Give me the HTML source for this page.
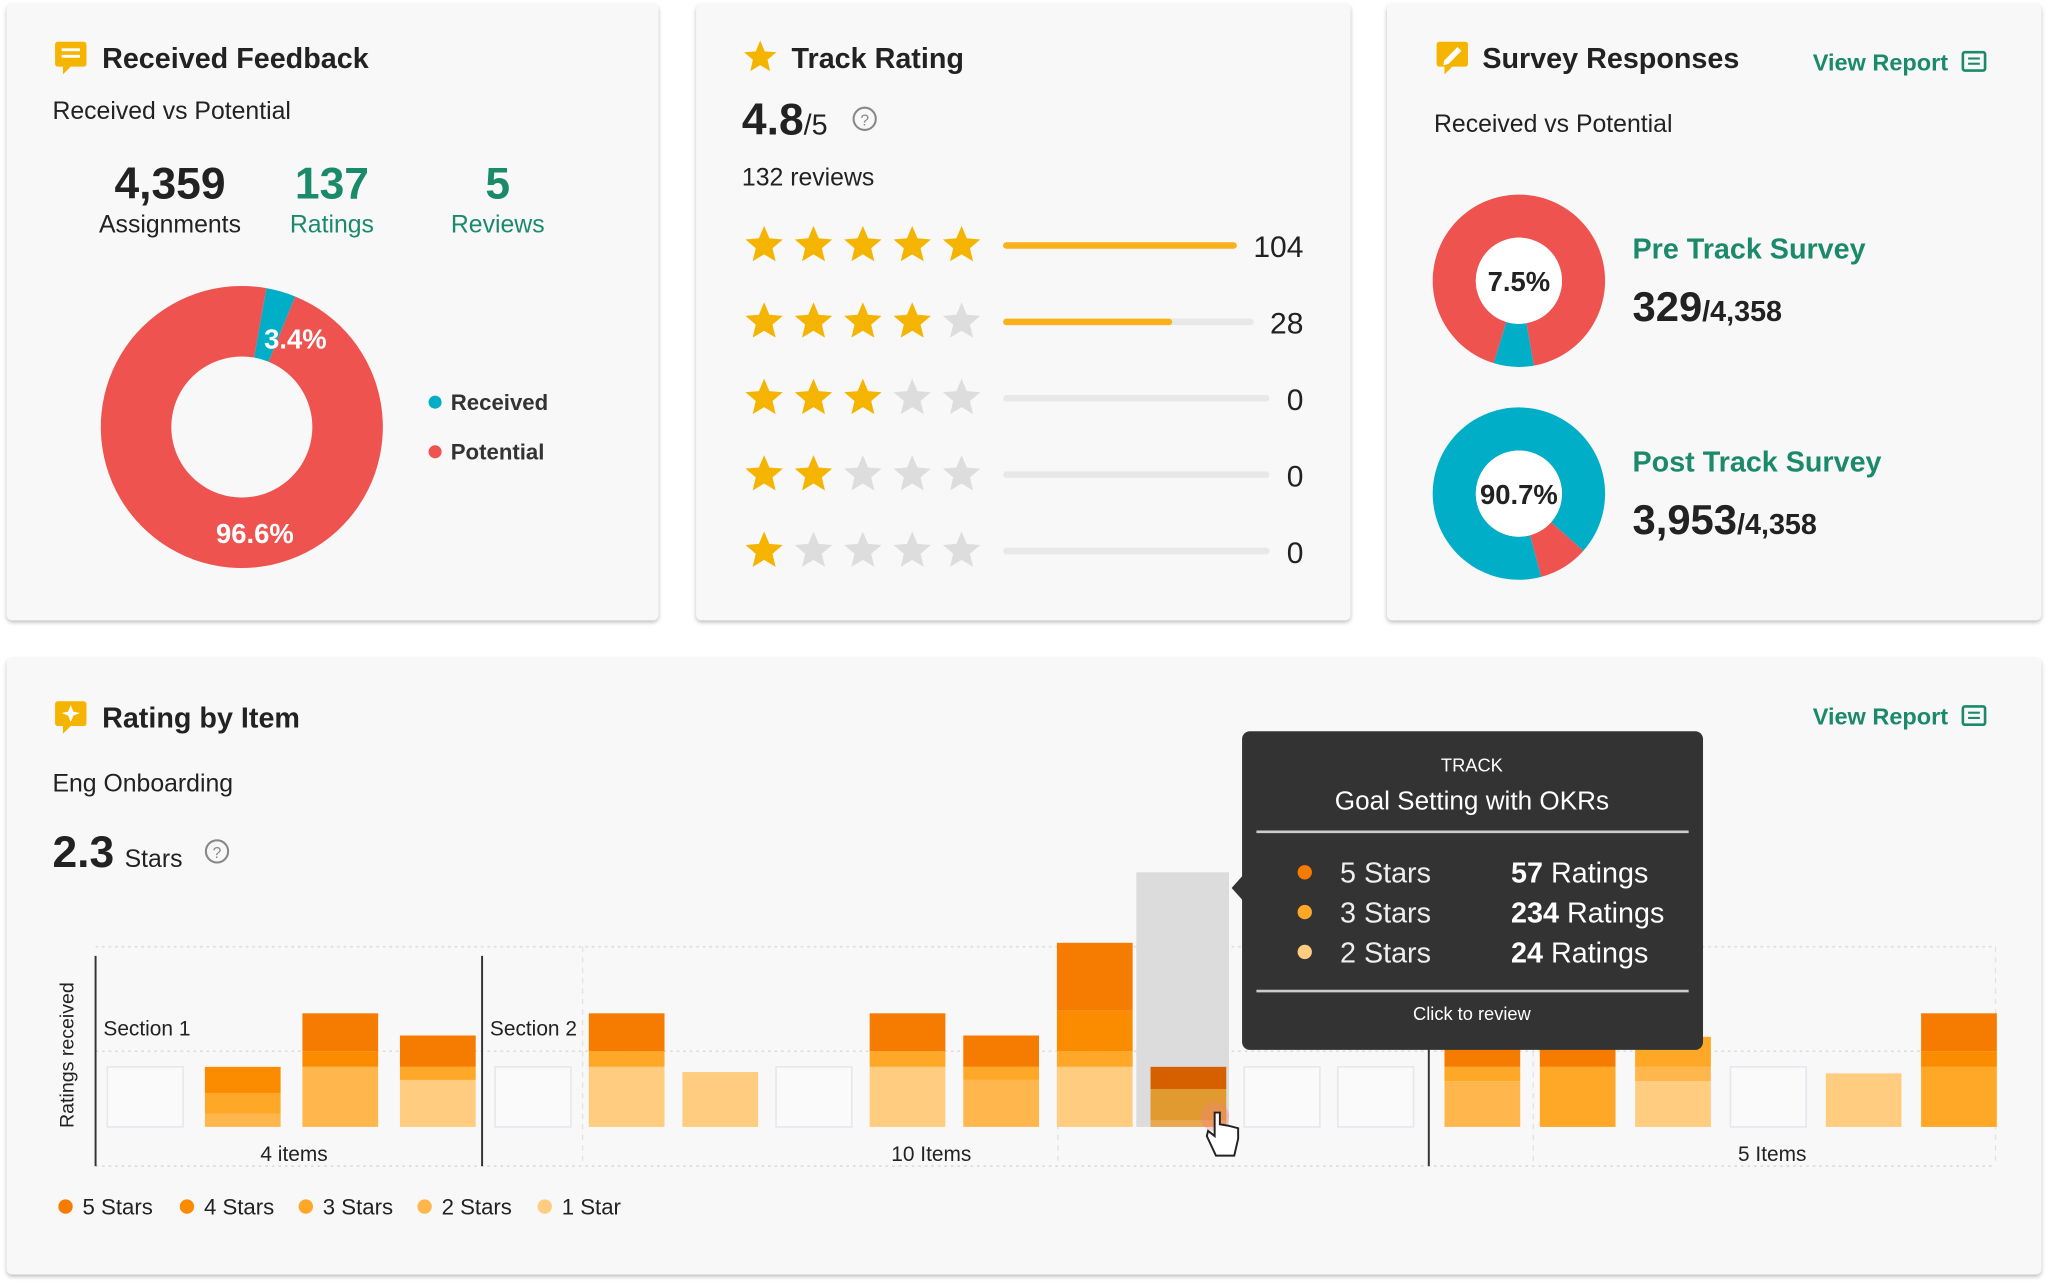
<!DOCTYPE html>
<html><head><meta charset="utf-8">
<style>
html,body{margin:0;padding:0;background:#fff;}
svg{display:block;font-family:"Liberation Sans",Arial,sans-serif;}
</style></head>
<body>
<svg id="root" width="2048" height="1281" viewBox="0 0 1568 981" xmlns="http://www.w3.org/2000/svg">
<defs>
<filter id="sh" x="-5%" y="-5%" width="110%" height="115%"><feDropShadow dx="0" dy="1.5" stdDeviation="1.6" flood-color="#000" flood-opacity="0.28"/></filter>
</defs>
<rect width="1568" height="981" fill="#fff"/>
<rect x="5" y="3" width="499" height="472" rx="4" fill="#f8f8f8" filter="url(#sh)"/>
<rect x="533" y="3" width="501" height="472" rx="4" fill="#f8f8f8" filter="url(#sh)"/>
<rect x="1062" y="3" width="501" height="472" rx="4" fill="#f8f8f8" filter="url(#sh)"/>
<rect x="5" y="504" width="1558" height="472" rx="4" fill="#f8f8f8" filter="url(#sh)"/>

<g><rect x="42" y="32" width="24" height="19" rx="2" fill="#f5b400"/><path d="M48 51 L48 57 L54 51 Z" fill="#f5b400"/><rect x="47" y="37" width="14" height="2.2" fill="#fff"/><rect x="47" y="42" width="14" height="2.2" fill="#fff"/></g>
<text x="78" y="52" font-size="22" font-weight="bold" fill="#222">Received Feedback</text>
<text x="40" y="91" font-size="19" fill="#222">Received vs Potential</text>
<text x="130" y="152" font-size="34" font-weight="bold" fill="#222" text-anchor="middle">4,359</text>
<text x="130" y="178" font-size="19" fill="#222" text-anchor="middle">Assignments</text>
<text x="254" y="152" font-size="34" font-weight="bold" fill="#1a8a6a" text-anchor="middle">137</text>
<text x="254" y="178" font-size="19" fill="#1a8a6a" text-anchor="middle">Ratings</text>
<text x="381" y="152" font-size="34" font-weight="bold" fill="#1a8a6a" text-anchor="middle">5</text>
<text x="381" y="178" font-size="19" fill="#1a8a6a" text-anchor="middle">Reviews</text>
<g id="donut1"></g>
<circle cx="333" cy="308" r="5" fill="#00aec7"/>
<text x="345" y="314" font-size="17" font-weight="bold" fill="#333">Received</text>
<circle cx="333" cy="346" r="5" fill="#ef5350"/>
<text x="345" y="352" font-size="17" font-weight="bold" fill="#333">Potential</text>

<path d="" id="trIcon" fill="#f5b400"/>
<text x="606" y="52" font-size="22" font-weight="bold" fill="#222">Track Rating</text>
<text x="568" y="103" fill="#222"><tspan font-size="34" font-weight="bold">4.8</tspan><tspan font-size="22">/5</tspan></text>
<g><circle cx="662" cy="91" r="8.5" fill="none" stroke="#888" stroke-width="1.6"/><text x="662" y="96" font-size="12" fill="#888" text-anchor="middle">?</text></g>
<text x="568" y="142" font-size="19" fill="#222">132 reviews</text>
<g id="starRows"></g>

<g><rect x="1100" y="32" width="24" height="19" rx="2" fill="#f5b400"/><path d="M1106 51 L1106 57 L1112 51 Z" fill="#f5b400"/><path d="M1106 46 L1116 36 L1119 39 L1109 49 L1105 50 Z" fill="#fff"/></g>
<text x="1135" y="52" font-size="22" font-weight="bold" fill="#222">Survey Responses</text>
<text x="1388" y="54" font-size="18" font-weight="bold" fill="#1a8a6a">View Report</text>
<g><rect x="1503" y="40" width="17" height="14" rx="1.5" fill="none" stroke="#1a8a6a" stroke-width="2"/><rect x="1507" y="44" width="9" height="1.6" fill="#1a8a6a"/><rect x="1507" y="48" width="9" height="1.6" fill="#1a8a6a"/></g>
<text x="1098" y="101" font-size="19" fill="#222">Received vs Potential</text>
<g id="donut2"></g>
<g id="donut3"></g>
<text x="1250" y="198" font-size="22" font-weight="bold" fill="#1a8a6a">Pre Track Survey</text>
<text x="1250" y="246" fill="#222"><tspan font-size="32" font-weight="bold">329</tspan><tspan font-size="22" font-weight="bold">/4,358</tspan></text>
<text x="1250" y="361" font-size="22" font-weight="bold" fill="#1a8a6a">Post Track Survey</text>
<text x="1250" y="409" fill="#222"><tspan font-size="32" font-weight="bold">3,953</tspan><tspan font-size="22" font-weight="bold">/4,358</tspan></text>

<g><rect x="42" y="537" width="24" height="19" rx="2" fill="#f5b400"/><path d="M48 556 L48 562 L54 556 Z" fill="#f5b400"/><path d="M54 540 L56 545 L61 546 L56 548 L54 553 L52 548 L47 546 L52 545 Z" fill="#fff"/></g>
<text x="78" y="557" font-size="22" font-weight="bold" fill="#222">Rating by Item</text>
<text x="1388" y="555" font-size="18" font-weight="bold" fill="#1a8a6a">View Report</text>
<g><rect x="1503" y="541" width="17" height="14" rx="1.5" fill="none" stroke="#1a8a6a" stroke-width="2"/><rect x="1507" y="545" width="9" height="1.6" fill="#1a8a6a"/><rect x="1507" y="549" width="9" height="1.6" fill="#1a8a6a"/></g>
<text x="40" y="606" font-size="19" fill="#222" font-weight="500">Eng Onboarding</text>
<text x="40" y="664" fill="#222"><tspan font-size="34" font-weight="bold">2.3</tspan><tspan font-size="19" dx="8">Stars</tspan></text>
<g><circle cx="166" cy="652" r="8.5" fill="none" stroke="#888" stroke-width="1.6"/><text x="166" y="657" font-size="12" fill="#888" text-anchor="middle">?</text></g>
<text transform="translate(56,808) rotate(-90)" font-size="15" fill="#222" text-anchor="middle">Ratings received</text>
<g id="chart"></g>
<g id="legend"></g>
<g id="tooltip"></g>
</svg>
<script>
const NS="http://www.w3.org/2000/svg";
function el(tag,attrs,parent){const e=document.createElementNS(NS,tag);for(const k in attrs)e.setAttribute(k,attrs[k]);if(parent)parent.appendChild(e);return e;}
function polar(cx,cy,r,a){const t=(a-90)*Math.PI/180;return [cx+r*Math.cos(t),cy+r*Math.sin(t)];}
function arc(cx,cy,r0,r1,a0,a1){const L=(a1-a0)>180?1:0;const p1=polar(cx,cy,r1,a0),p2=polar(cx,cy,r1,a1),p3=polar(cx,cy,r0,a1),p4=polar(cx,cy,r0,a0);
return `M${p1} A${r1} ${r1} 0 ${L} 1 ${p2} L${p3} A${r0} ${r0} 0 ${L} 0 ${p4} Z`;}
function starPath(cx,cy,R){const r=R*0.45;let d="";for(let i=0;i<10;i++){const rr=i%2?r:R;const p=polar(cx,cy,rr,i*36);d+=(i?"L":"M")+p[0].toFixed(1)+" "+p[1].toFixed(1);}return d+"Z";}
document.getElementById('trIcon').setAttribute('d',starPath(582,44,13));

const feedbackLabels=["Received","Potential"];
const feedbackValues=[3.4,96.6];
const feedbackColors=["#00aec7","#ef5350"];
const surveyNames=["pre-track","post-track"];
const surveyReceived=[7.5,90.7];
const surveyStart=[170,165];
const starLevels=[5,4,3,2,1];
const starCounts=[104,28,0,0,0];
const itemSections=["Section 1","Section 2","Section 3"];
const sectionItemLabels=["4 items","10 Items","5 Items"];
const sectionSizes=[4,10,6];
const stars1=[0,0,0,36,0,46,42,0,46,0,46,0,0,0,0,0,35,0,41,0];
const stars2=[0,10,46,0,0,0,0,0,0,36,0,5,0,0,35,0,11,0,0,0];
const stars3=[0,16,0,10,0,12,0,0,12,10,12,24,0,0,11,46,23,0,0,46];
const stars4=[0,20,12,0,0,0,0,0,0,0,31,0,0,0,0,0,0,0,0,12];
const stars5=[0,0,29,24,0,29,0,0,29,24,52,17,0,0,23,23,0,0,0,29];
const seriesNames=["5 Stars","4 Stars","3 Stars","2 Stars","1 Star"];
const tooltipLabels=["5 Stars","3 Stars","2 Stars"];
const tooltipValues=[57,234,24];

(function(){const g=document.getElementById('donut1');const tot=feedbackValues.reduce((a,b)=>a+b,0);let a=10;
feedbackValues.forEach((v,i)=>{const a1=a+v/tot*360;const p=el('path',{d:arc(185,327,54,108,a,Math.min(a1,a+359.99)),fill:feedbackColors[i]},g);

a=a1;});
const t1=el('text',{x:226,y:267,'font-size':21,'font-weight':'bold',fill:'#fff','text-anchor':'middle'},g);t1.textContent=feedbackValues[0]+"%";


const t2=el('text',{x:195,y:416,'font-size':21,'font-weight':'bold',fill:'#fff','text-anchor':'middle'},g);t2.textContent=feedbackValues[1]+"%";

})();

[[1163,215,'donut2'],[1163,378,'donut3']].forEach((c,i)=>{const g=document.getElementById(c[2]);const a0=surveyStart[i],a1=a0+surveyReceived[i]*3.6;
const pr=el('path',{d:arc(c[0],c[1],33,66,a1,a0+360),fill:'#ef5350'},g);


const pt=el('path',{d:arc(c[0],c[1],33,66,a0,a1),fill:'#00aec7'},g);


el('circle',{cx:c[0],cy:c[1],r:33,fill:'#fff'},g);
const t=el('text',{x:c[0],y:c[1]+8,'font-size':21,'font-weight':'bold',fill:'#222','text-anchor':'middle'},g);t.textContent=surveyReceived[i]+"%";

});

(function(){const g=document.getElementById('starRows');const maxC=Math.max(...starCounts);
const bx=(v,w)=>w*Math.pow(v/maxC,0.3);
starLevels.forEach((lvl,r)=>{const y=188+r*58.5;
for(let s=0;s<5;s++){const p=el('path',{d:starPath(585+s*37.8,y,15),fill:s<lvl?'#f5b400':'#dddddd'},g);

}
const tw=starCounts[r]>=100?179:(starCounts[r]>=10?192:204);
const tr=el('rect',{x:768,y:y-2.5,width:tw,height:5,rx:2.5,fill:'#e8e8e8'},g);


if(starCounts[r]>0){const f=el('rect',{x:768,y:y-2.5,width:bx(starCounts[r],tw),height:5,rx:2.5,fill:'#fbb117'},g);

}
const t=el('text',{x:998,y:y+9,'font-size':23,fill:'#222','text-anchor':'end'},g);t.textContent=starCounts[r];

});})();

(function(){const g=document.getElementById('chart');const base=863;const y=v=>base-v;
[725,805,893].forEach(gy=>{const l=el('line',{x1:73,x2:1528,y1:gy,y2:gy,stroke:'#ddd','stroke-width':1.3,'stroke-dasharray':'2 3'},g);

});
[446,810,1174,1528].forEach(gx=>{const l=el('line',{x1:gx,x2:gx,y1:725,y2:893,stroke:'#e2e2e2','stroke-width':1,'stroke-dasharray':'4 4'},g);

});
const hb=el('rect',{x:870,y:668,width:71,height:195,fill:'#dcdcdc'},g);


const secStart=[82,379,1106];const secLine=[73,369,1094];const secStep=[74.7,71.7,73];const labelX=[225,713,1357];const bw=58;
const cols=["#ffcc80","#ffb74d","#ffa726","#fb8c00","#f57c00"];
const hovCols=["#f0c070","#e8a850","#e09a30","#d9781a","#d65f00"];
const series=[stars1,stars2,stars3,stars4,stars5];
let idx=0;
sectionSizes.forEach((n,s)=>{const l=el('line',{x1:secLine[s],x2:secLine[s],y1:732,y2:893,stroke:'#333','stroke-width':1.5},g);


const st=el('text',{x:secLine[s]+6,y:793,'font-size':16,fill:'#222'},g);st.textContent=itemSections[s];


const il=el('text',{x:labelX[s],y:889,'font-size':16,fill:'#222','text-anchor':'middle'},g);il.textContent=sectionItemLabels[s];


for(let i=0;i<n;i++,idx++){const bx=secStart[s]+i*secStep[s];const tot=series.reduce((a,sr)=>a+sr[idx],0);
if(tot===0){const r=el('rect',{x:bx,y:y(46),width:bw,height:46,fill:'#fafafa',stroke:'#e6e6ec','stroke-width':1.2},g);

continue;}
let acc=0;const hov=(idx===11);
series.forEach((sr,k)=>{const v=sr[idx];if(!v)return;const r=el('rect',{x:bx,y:y(acc+v),width:bw,height:v,fill:(hov?hovCols:cols)[k]},g);

acc+=v;});}});
const cu=el('g',{},g);

el('circle',{cx:930,cy:855,r:11,fill:'#f08080','fill-opacity':0.35},cu);
el('path',{d:'M930 852 L930 870 L925 866 L924 870 L931 885 L945 885 L948 872 L948 864 L940 862 L934 861 L934 852 Z',fill:'#fff',stroke:'#222','stroke-width':1.5},cu);
})();

(function(){const g=document.getElementById('legend');const cols=["#f57c00","#fb8c00","#ffa726","#ffb74d","#ffcc80"];const xs=[50,143,234,325,417];
seriesNames.forEach((n,i)=>{const c=el('circle',{cx:xs[i],cy:924,r:5.5,fill:cols[i]},g);


const t=el('text',{x:xs[i]+13,y:930,'font-size':17,fill:'#222'},g);t.textContent=n;

});})();

(function(){const g=document.getElementById('tooltip');

el('rect',{x:951,y:560,width:353,height:244,rx:6,fill:'#333'},g);
el('path',{d:'M952 670 L943 680 L952 690 Z',fill:'#333'},g);
const t=el('text',{x:1127,y:591,'font-size':14,fill:'#fff','text-anchor':'middle'},g);t.textContent="TRACK";
const t2=el('text',{x:1127,y:620,'font-size':20,fill:'#fff','text-anchor':'middle'},g);t2.textContent="Goal Setting with OKRs";
el('line',{x1:962,x2:1293,y1:637,y2:637,stroke:'#ccc','stroke-width':2},g);
el('line',{x1:962,x2:1293,y1:759,y2:759,stroke:'#ccc','stroke-width':2},g);
const dc=["#f57c00","#ffa726","#ffcc80"];
tooltipLabels.forEach((l,i)=>{const yy=668+i*30.5;el('circle',{cx:999,cy:yy,r:5.5,fill:dc[i]},g);
const a=el('text',{x:1026,y:yy+8,'font-size':22,fill:'#eee'},g);a.textContent=l;
const b=el('text',{x:1157,y:yy+8,'font-size':22,fill:'#fff'},g);
const s1=el('tspan',{'font-weight':'bold'},b);s1.textContent=tooltipValues[i];
const s2=el('tspan',{},b);s2.textContent=" Ratings";});
const c=el('text',{x:1127,y:781,'font-size':14,fill:'#fff','text-anchor':'middle'},g);c.textContent="Click to review";})();
</script>
</body></html>
